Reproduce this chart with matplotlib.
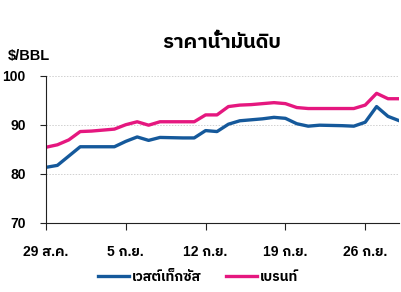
import numpy as np
import matplotlib
matplotlib.use('Agg')
import matplotlib.pyplot as plt
from matplotlib import font_manager
from matplotlib.ft2font import FT2Font

# วันที่ 29 ส.ค. ถึง 29 ก.ย. (รายวัน)
days = np.arange(32)
tick_days = [0, 7, 14, 21, 28]
tick_labels = ['29 ส.ค.', '5 ก.ย.', '12 ก.ย.', '19 ก.ย.', '26 ก.ย.']

wti = [81.3, 81.7, 83.6, 85.5, 85.5, 85.5, 85.5, 86.6, 87.5, 86.8,
       87.4, 87.35, 87.3, 87.3, 88.8, 88.6, 90.1, 90.8, 91.0, 91.2,
       91.5, 91.3, 90.2, 89.7, 89.9, 89.85, 89.8, 89.7, 90.5, 93.7,
       91.7, 90.8]
brent = [85.4, 85.9, 86.9, 88.6, 88.7, 88.9, 89.1, 90.0, 90.6, 89.9,
         90.6, 90.6, 90.6, 90.6, 92.0, 92.0, 93.7, 94.0, 94.1, 94.3,
         94.5, 94.3, 93.5, 93.3, 93.3, 93.3, 93.3, 93.3, 94.0, 96.4,
         95.3, 95.3]
series_names = ['เวสต์เท็กซัส', 'เบรนท์']
colors = ['#15599b', '#e5177f']


def find_thai_font():
    # หา font ที่มีอักษรไทย
    best = None
    for f in font_manager.fontManager.ttflist:
        try:
            cmap = FT2Font(f.fname).get_charmap()
        except Exception:
            continue
        if 0x0E01 in cmap:
            if 'Sans' in f.name or best is None:
                best = f.name
            if 'Sans' in f.name:
                break
    return best


thai = find_thai_font()
families = ['Liberation Sans', thai] if thai else ['Liberation Sans', 'DejaVu Sans']
plt.rcParams['font.family'] = families
plt.rcParams['font.weight'] = 'bold'

fig = plt.figure(figsize=(4.02, 2.92), dpi=100)
ax = fig.add_axes([46 / 402, 1 - 222.7 / 292, 353.4 / 402, 147 / 292])

ax.plot(days, wti, color=colors[0], lw=2.4, label=series_names[0])
ax.plot(days, brent, color=colors[1], lw=2.4, label=series_names[1])

ax.set_xlim(0, 31)
ax.set_ylim(70, 100)
ax.set_yticks([70, 80, 90, 100])
ax.set_xticks(tick_days)
ax.set_xticklabels(tick_labels)
ax.tick_params(axis='y', length=4.5, width=0.8, pad=10, labelsize=10, colors='#222222')
ax.tick_params(axis='x', length=5, width=0.8, pad=11, labelsize=10, colors='#222222')
for lab in ax.get_xticklabels() + ax.get_yticklabels():
    lab.set_color('black')
    lab.set_fontweight('bold')

for y in [80, 90, 100]:
    ax.axhline(y, color='#d0d0d0', lw=0.7, ls=(0, (1.5, 1.5)), zorder=0)

ax.spines['top'].set_visible(False)
ax.spines['right'].set_visible(False)
ax.spines['left'].set_color('#222222')
ax.spines['bottom'].set_color('#222222')
ax.spines['left'].set_linewidth(0.8)
ax.spines['bottom'].set_linewidth(0.8)

fig.text(222 / 402, 1 - 43 / 292, 'ราคาน้ำมันดิบ', ha='center', va='center',
         fontsize=14.5, fontweight='bold')
fig.text(8 / 402, 1 - 56 / 292, '$/BBL', ha='left', va='center',
         fontsize=10.5, fontweight='bold')

fig.legend(loc='center', bbox_to_anchor=(198 / 402, 1 - 277 / 292), ncol=2,
           frameon=False, fontsize=10, handlelength=2.2, handletextpad=0.2,
           columnspacing=1.8)

fig.savefig('out.png', dpi=100)
